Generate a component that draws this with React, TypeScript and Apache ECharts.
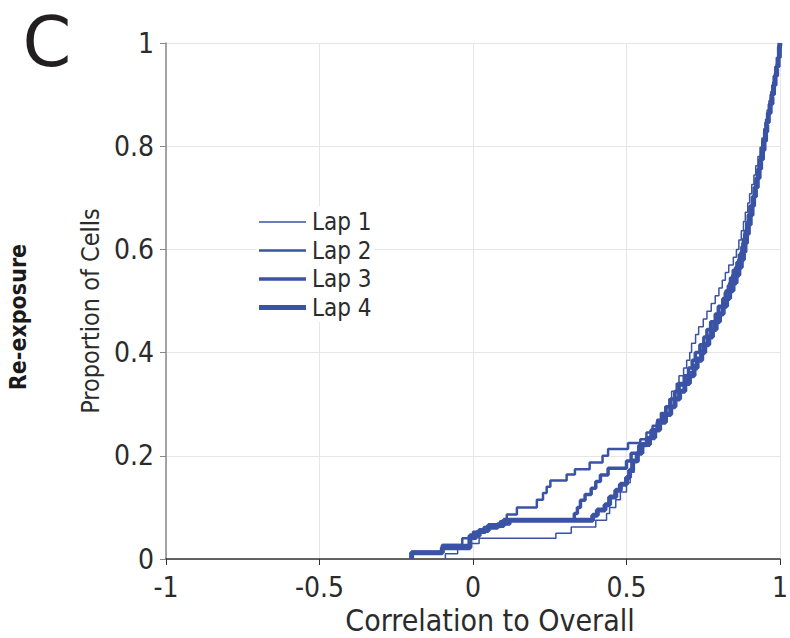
import React, { useEffect, useRef } from "react";
import * as echarts from "echarts";

const seriesNames = ["Lap 1", "Lap 2", "Lap 3", "Lap 4"];
const xTicks = [-1, -0.5, 0, 0.5, 1];
const yTicks = [0, 0.2, 0.4, 0.6, 0.8, 1];

const lap1: [number, number][] = [
  [-0.09, 0], [-0.09, 0.01], [-0.05, 0.02], [-0.01, 0.03], [0.02, 0.04], [0.27, 0.05], [0.32, 0.062], [0.4, 0.075],
  [0.435, 0.088], [0.445, 0.1], [0.465, 0.115], [0.48, 0.13], [0.5, 0.148], [0.512, 0.168], [0.525, 0.188], [0.54, 0.205],
  [0.555, 0.22], [0.575, 0.235], [0.59, 0.25], [0.603, 0.265], [0.616, 0.28], [0.625, 0.295], [0.638, 0.31], [0.647, 0.325],
  [0.662, 0.34], [0.671, 0.355], [0.686, 0.37], [0.696, 0.385], [0.706, 0.4], [0.712, 0.418], [0.725, 0.435], [0.735, 0.45],
  [0.75, 0.465], [0.762, 0.48], [0.776, 0.495], [0.789, 0.51], [0.801, 0.525], [0.812, 0.54], [0.822, 0.555], [0.833, 0.57],
  [0.848, 0.585], [0.858, 0.6], [0.866, 0.618], [0.874, 0.636], [0.881, 0.654], [0.887, 0.672], [0.895, 0.69], [0.901, 0.708],
  [0.908, 0.726], [0.915, 0.744], [0.921, 0.762], [0.928, 0.78], [0.935, 0.798], [0.941, 0.816], [0.947, 0.834], [0.953, 0.852],
  [0.958, 0.87], [0.964, 0.888], [0.97, 0.906], [0.976, 0.924], [0.982, 0.942], [0.988, 0.96], [0.993, 0.978], [0.998, 0.99],
  [1.0, 1.0],
];

const lap2: [number, number][] = [
  [-0.2, 0], [-0.2, 0.013], [-0.1, 0.027], [-0.035, 0.04], [0, 0.053], [0.035, 0.062], [0.088, 0.073], [0.11, 0.086],
  [0.143, 0.1], [0.208, 0.115], [0.228, 0.128], [0.24, 0.14], [0.252, 0.152], [0.305, 0.164], [0.332, 0.174], [0.38, 0.187],
  [0.422, 0.2], [0.44, 0.213], [0.505, 0.225], [0.545, 0.232], [0.565, 0.245], [0.585, 0.258], [0.6, 0.27], [0.612, 0.283],
  [0.63, 0.296], [0.645, 0.31], [0.656, 0.323], [0.673, 0.336], [0.693, 0.35], [0.703, 0.362], [0.718, 0.376], [0.728, 0.39],
  [0.741, 0.404], [0.748, 0.418], [0.763, 0.432], [0.773, 0.446], [0.783, 0.46], [0.794, 0.474], [0.802, 0.488], [0.812, 0.502],
  [0.82, 0.516], [0.83, 0.53], [0.837, 0.545], [0.846, 0.56], [0.858, 0.575], [0.866, 0.59], [0.874, 0.605], [0.879, 0.62],
  [0.885, 0.636], [0.89, 0.652], [0.896, 0.668], [0.903, 0.684], [0.91, 0.7], [0.916, 0.716], [0.92, 0.732], [0.925, 0.748],
  [0.93, 0.764], [0.935, 0.78], [0.939, 0.796], [0.944, 0.812], [0.95, 0.828], [0.955, 0.844], [0.96, 0.86], [0.965, 0.876],
  [0.97, 0.892], [0.975, 0.908], [0.98, 0.924], [0.984, 0.94], [0.988, 0.956], [0.993, 0.972], [0.997, 0.988], [1.0, 1.0],
];

const lap3: [number, number][] = [
  [-0.2, 0], [-0.2, 0.013], [-0.1, 0.026], [-0.01, 0.04], [0.01, 0.052], [0.04, 0.06], [0.08, 0.068], [0.12, 0.075],
  [0.33, 0.088], [0.34, 0.1], [0.35, 0.114], [0.365, 0.125], [0.385, 0.137], [0.4, 0.15], [0.415, 0.163], [0.44, 0.176],
  [0.5, 0.19], [0.515, 0.205], [0.54, 0.22], [0.565, 0.235], [0.58, 0.25], [0.6, 0.265], [0.615, 0.28], [0.628, 0.295],
  [0.643, 0.31], [0.658, 0.325], [0.668, 0.34], [0.688, 0.355], [0.702, 0.37], [0.714, 0.385], [0.724, 0.4], [0.739, 0.415],
  [0.752, 0.43], [0.762, 0.445], [0.774, 0.46], [0.789, 0.475], [0.799, 0.49], [0.814, 0.505], [0.824, 0.52], [0.836, 0.535],
  [0.846, 0.55], [0.855, 0.565], [0.865, 0.58], [0.873, 0.595], [0.879, 0.612], [0.885, 0.63], [0.892, 0.648], [0.897, 0.666],
  [0.902, 0.684], [0.91, 0.702], [0.916, 0.72], [0.922, 0.738], [0.928, 0.756], [0.934, 0.774], [0.94, 0.792], [0.945, 0.81],
  [0.95, 0.828], [0.955, 0.846], [0.96, 0.864], [0.966, 0.882], [0.972, 0.9], [0.977, 0.918], [0.982, 0.936], [0.987, 0.954],
  [0.992, 0.972], [0.997, 0.99], [1.0, 1.0],
];

const lap4: [number, number][] = [
  [-0.2, 0], [-0.2, 0.012], [-0.1, 0.022], [-0.01, 0.045], [0.02, 0.055], [0.05, 0.065], [0.1, 0.075], [0.39, 0.085],
  [0.405, 0.095], [0.43, 0.105], [0.445, 0.12], [0.465, 0.133], [0.48, 0.145], [0.5, 0.158], [0.51, 0.172], [0.52, 0.19],
  [0.535, 0.205], [0.55, 0.222], [0.575, 0.235], [0.592, 0.25], [0.608, 0.265], [0.627, 0.28], [0.644, 0.295], [0.658, 0.31],
  [0.673, 0.325], [0.69, 0.34], [0.705, 0.355], [0.72, 0.37], [0.73, 0.385], [0.745, 0.4], [0.755, 0.415], [0.768, 0.43],
  [0.78, 0.445], [0.792, 0.46], [0.803, 0.475], [0.815, 0.49], [0.826, 0.505], [0.836, 0.52], [0.847, 0.535], [0.857, 0.55],
  [0.866, 0.565], [0.874, 0.58], [0.881, 0.595], [0.886, 0.612], [0.891, 0.63], [0.897, 0.648], [0.903, 0.666], [0.909, 0.684],
  [0.914, 0.702], [0.92, 0.72], [0.926, 0.738], [0.932, 0.756], [0.937, 0.774], [0.943, 0.792], [0.948, 0.81], [0.953, 0.828],
  [0.957, 0.846], [0.962, 0.864], [0.968, 0.882], [0.974, 0.9], [0.979, 0.918], [0.984, 0.936], [0.989, 0.954], [0.994, 0.972],
  [0.998, 0.99], [1.0, 1.0],
];

const lapData = [lap1, lap2, lap3, lap4];
const lapWidths = [1.5, 2.5, 3.5, 5];

const FONT = "'DejaVu Sans Condensed', 'DejaVu Sans', sans-serif";
const BLUE = "#3a53a4";
const TEXT = "#2b2b2b";

export default function App() {
  const ref = useRef<HTMLDivElement>(null);
  useEffect(() => {
    if (!ref.current) return;
    document.body.style.margin = "0";
    const chart = echarts.init(ref.current, undefined, { renderer: "svg" });
    const series = [3, 2, 1, 0].map((i) => ({
      name: seriesNames[i],
      type: "line",
      step: "end",
      symbol: "none",
      showSymbol: false,
      data: lapData[i],
      lineStyle: { color: BLUE, width: lapWidths[i] },
      itemStyle: { color: BLUE },
      emphasis: { disabled: true },
      z: 10 - i,
    }));
    const legendTop = 222;
    const legendStep = 28.5;
    const legendItems = seriesNames.flatMap((name, i) => [
      {
        type: "line",
        z: 20,
        shape: { x1: 259, y1: legendTop + i * legendStep, x2: 306, y2: legendTop + i * legendStep },
        style: { stroke: BLUE, lineWidth: lapWidths[i] },
      },
      {
        type: "text",
        z: 20,
        x: 312,
        y: legendTop + i * legendStep,
        style: { text: name, font: `24px ${FONT}`, fill: TEXT, verticalAlign: "middle", align: "left" },
      },
    ]);
    chart.setOption({
      animation: false,
      textStyle: { fontFamily: FONT },
      grid: { left: 166, right: 10, top: 43, bottom: 79, containLabel: false, outerBoundsMode: "none" },
      xAxis: {
        type: "value",
        min: xTicks[0],
        max: xTicks[xTicks.length - 1],
        interval: 0.5,
        name: "Correlation to Overall",
        nameLocation: "middle",
        nameGap: 45,
        nameTextStyle: { fontSize: 30, color: TEXT, fontFamily: FONT, padding: [0, 0, 0, 34] },
        axisLine: { show: true, onZero: false, lineStyle: { color: "#333", width: 1.5 } },
        axisTick: { show: true, length: 6, lineStyle: { color: "#333" } },
        axisLabel: { fontSize: 28, color: TEXT, margin: 14, fontFamily: FONT },
        splitLine: { show: true, lineStyle: { color: "#e6e6e6", width: 1 } },
      },
      yAxis: {
        type: "value",
        min: yTicks[0],
        max: yTicks[yTicks.length - 1],
        interval: 0.2,
        name: "Proportion of Cells",
        nameLocation: "middle",
        nameGap: 53,
        nameTextStyle: { fontSize: 25, color: TEXT, fontFamily: FONT, padding: [0, 20, 0, 0] },
        axisLine: { show: true, onZero: false, lineStyle: { color: "#888", width: 1.5 } },
        axisTick: { show: true, length: 6, lineStyle: { color: "#888" } },
        axisLabel: { fontSize: 28, color: TEXT, margin: 12, fontFamily: FONT },
        splitLine: { show: true, lineStyle: { color: "#e6e6e6", width: 1 } },
      },
      graphic: [
        {
          type: "text",
          x: 47,
          y: 42,
          style: {
            text: "C",
            font: "70px 'DejaVu Sans', sans-serif",
            fill: "#231f20",
            align: "center",
            verticalAlign: "middle",
          },
        },
        {
          type: "text",
          x: 18,
          y: 317,
          rotation: Math.PI / 2,
          style: {
            text: "Re-exposure",
            font: `bold 23px ${FONT}`,
            fill: "#1a1a1a",
            align: "center",
            verticalAlign: "middle",
          },
        },
        {
          type: "rect",
          z: 1,
          shape: { x: 256, y: 206, width: 118, height: 116 },
          style: { fill: "#ffffff" },
        },
        ...legendItems,
      ],
      series,
    });
    return () => chart.dispose();
  }, []);
  return <div ref={ref} style={{ width: 790, height: 638 }} />;
}
